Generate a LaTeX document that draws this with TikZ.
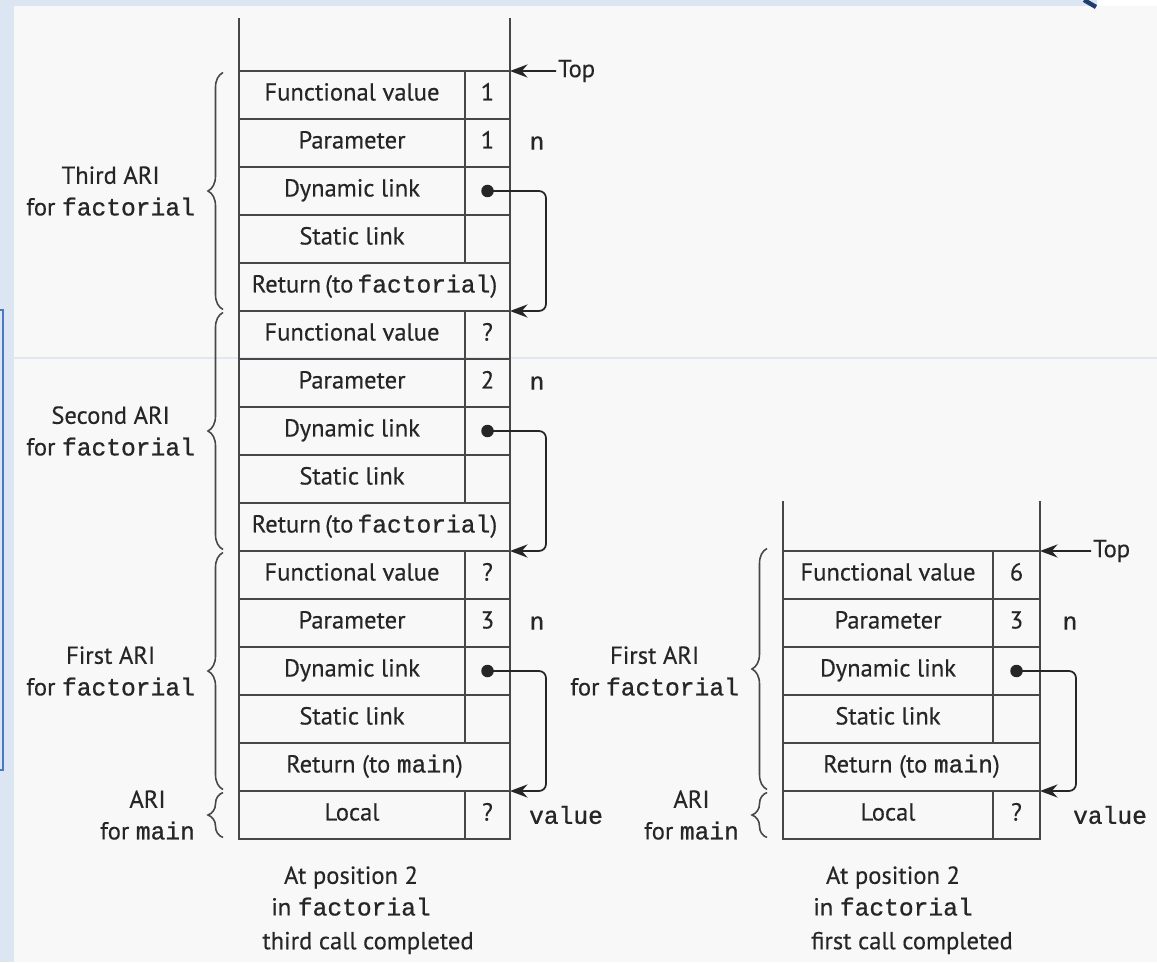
\documentclass[tikz,border=0pt]{standalone}
\usepackage{fontspec}
\setmainfont[FakeBold=0.3]{PT Sans}
\setmonofont[FakeBold=0.9]{Liberation Mono}
\usetikzlibrary{arrows.meta,decorations.pathreplacing,positioning}
\definecolor{sfondo}{HTML}{F8F8F8}
\definecolor{cornice}{HTML}{DCE6F2}
\definecolor{inchiostro}{HTML}{262626}
\definecolor{bordoblu}{HTML}{4A78C2}
\definecolor{bluscuro}{HTML}{1F3D6E}
\definecolor{righina}{HTML}{E2E8F2}
\newcommand{\testo}{\fontsize{14}{18}\selectfont}

\begin{document}
\begin{tikzpicture}[
		cella/.style={rectangle, draw=inchiostro!85, line width=1.1pt, inner sep=0pt, outer sep=0pt,
			minimum height={\rh*1cm}, text height=1.55ex, text depth=0.3ex, text=inchiostro, font=\testo},
		punto/.style={circle, fill=inchiostro, inner sep=0pt, minimum size=0.25cm},
		freccia/.style={line width=1pt, draw=inchiostro, rounded corners=4pt,
			-{Stealth[length=10pt,width=7.5pt]}},
		graffa/.style={decorate, decoration={brace, amplitude=0.3cm}, line width=0.9pt, draw=inchiostro!85},
		etichetta/.style={text=inchiostro, font=\testo, inner sep=1pt},
		bordo/.style={line width=1.1pt, draw=inchiostro!85},
		]
		\def\rh{0.96}
		
		%% ── sfondo della diapositiva ───────────────────────────
		\useasboundingbox(0,0)rectangle(23.14,19.24);
		\fill[cornice](0,0)rectangle(23.14,19.24);
		\fill[sfondo](0.28,0)rectangle(23.14,19.12);
		\fill[white](21.94,19.12)rectangle(23.14,19.24);
		\draw[bluscuro,line width=2.5pt](21.68,19.24)--(21.92,19.10);
		\draw[righina,line width=0.6pt](0.28,12.08)--(23.14,12.08);
		\draw[bordoblu,line width=0.8pt](0,13.04)--(0.06,13.04)--(0.06,3.84)--(0,3.84);
		
		%% ── (a) terza chiamata completata ──────────────────────
		\begin{scope}[shift={(4.78,17.82)}]
			\def\wl{4.52}
			\def\wv{0.90}
			\draw[bordo](0,0)--(0,1.05);
			\draw[bordo](\wl+\wv,0)--(\wl+\wv,1.05);
			\foreach \k/\nome/\fv/\pv/\ret in {0/Third/1/1/{Return\,(to\,\texttt{factorial})},
				1/Second/?/2/{Return\,(to\,\texttt{factorial})},
				2/First/?/3/{Return (to \texttt{main})}}{
				\node[cella,minimum width={\wl*1cm}](L-fv\k)at({\wl/2},{-(5*\k+0.5)*\rh}){Functional value};
				\node[cella,minimum width={\wv*1cm}](L-fvv\k)at({\wl+\wv/2},{-(5*\k+0.5)*\rh}){\fv};
				\node[cella,minimum width={\wl*1cm}](L-par\k)at({\wl/2},{-(5*\k+1.5)*\rh}){Parameter};
				\node[cella,minimum width={\wv*1cm}](L-parv\k)at({\wl+\wv/2},{-(5*\k+1.5)*\rh}){\pv};
				\node[etichetta](L-n\k)at({\wl+\wv+0.54},{-(5*\k+1.5)*\rh}){\texttt{n}};
				\node[cella,minimum width={\wl*1cm}](L-dl\k)at({\wl/2},{-(5*\k+2.5)*\rh}){Dynamic link};
				\node[cella,minimum width={\wv*1cm}](L-dlv\k)at({\wl+\wv/2},{-(5*\k+2.5)*\rh}){};
				\node[punto](L-pt\k)at(L-dlv\k.center){};
				\node[cella,minimum width={\wl*1cm}](L-sl\k)at({\wl/2},{-(5*\k+3.5)*\rh}){Static link};
				\node[cella,minimum width={\wv*1cm}](L-slv\k)at({\wl+\wv/2},{-(5*\k+3.5)*\rh}){};
				\node[cella,minimum width={(\wl+\wv)*1cm}](L-ret\k)at({(\wl+\wv)/2},{-(5*\k+4.5)*\rh}){\ret};
				\draw[freccia](L-pt\k.center)--++({\wv/2+0.72},0)|-(L-ret\k.south east);
				\draw[graffa](-0.32,{-5*(\k+1)*\rh+0.03})--(-0.32,{-5*\k*\rh-0.03});
				\node[etichetta,anchor=east,align=center](L-ari\k)at(-0.84,{-(5*\k+2.5)*\rh}){\nome\ ARI\\for \texttt{factorial}};
			}
			\node[cella,minimum width={\wl*1cm}](L-loc)at({\wl/2},{-15.5*\rh}){Local};
			\node[cella,minimum width={\wv*1cm}](L-locv)at({\wl+\wv/2},{-15.5*\rh}){?};
			\node[etichetta,anchor=west](L-val)at({\wl+\wv+0.34},{-15.5*\rh}){\texttt{value}};
			\draw[graffa](-0.32,{-16*\rh+0.03})--(-0.32,{-15*\rh-0.03});
			\node[etichetta,anchor=east,align=center](L-arim)at(-0.84,{-15.5*\rh}){ARI\\for \texttt{main}};
			\node[etichetta,anchor=west](L-top)at({\wl+\wv+0.92},0){Top};
			\draw[freccia](L-top.west)--(L-fvv0.north east);
			\node[etichetta,align=center](L-pos)at(2.24,{-16*\rh-1.04}){At position 2\\in \texttt{factorial}};
			\node[etichetta](L-fase)at(2.58,{-16*\rh-2.08}){third call completed};
		\end{scope}
		
		%% ── (b) prima chiamata completata ──────────────────────
		\begin{scope}[shift={(15.66,8.22)}]
			\def\wl{4.20}
			\def\wv{0.94}
			\draw[bordo](0,0)--(0,1.0);
			\draw[bordo](\wl+\wv,0)--(\wl+\wv,1.0);
			\node[cella,minimum width={\wl*1cm}](R-fv)at({\wl/2},{-0.5*\rh}){Functional value};
			\node[cella,minimum width={\wv*1cm}](R-fvv)at({\wl+\wv/2},{-0.5*\rh}){6};
			\node[cella,minimum width={\wl*1cm}](R-par)at({\wl/2},{-1.5*\rh}){Parameter};
			\node[cella,minimum width={\wv*1cm}](R-parv)at({\wl+\wv/2},{-1.5*\rh}){3};
			\node[etichetta](R-n)at({\wl+\wv+0.6},{-1.5*\rh}){\texttt{n}};
			\node[cella,minimum width={\wl*1cm}](R-dl)at({\wl/2},{-2.5*\rh}){Dynamic link};
			\node[cella,minimum width={\wv*1cm}](R-dlv)at({\wl+\wv/2},{-2.5*\rh}){};
			\node[punto](R-pt)at(R-dlv.center){};
			\node[cella,minimum width={\wl*1cm}](R-sl)at({\wl/2},{-3.5*\rh}){Static link};
			\node[cella,minimum width={\wv*1cm}](R-slv)at({\wl+\wv/2},{-3.5*\rh}){};
			\node[cella,minimum width={(\wl+\wv)*1cm}](R-ret)at({(\wl+\wv)/2},{-4.5*\rh}){Return (to \texttt{main})};
			\draw[freccia](R-pt.center)--++({\wv/2+0.72},0)|-(R-ret.south east);
			\draw[graffa](-0.32,{-5*\rh+0.03})--(-0.32,{0.05});
			\node[etichetta,anchor=east,align=center](R-ari)at(-0.84,{-2.5*\rh}){First ARI\\for \texttt{factorial}};
			\node[cella,minimum width={\wl*1cm}](R-loc)at({\wl/2},{-5.5*\rh}){Local};
			\node[cella,minimum width={\wv*1cm}](R-locv)at({\wl+\wv/2},{-5.5*\rh}){?};
			\node[etichetta,anchor=west](R-val)at({\wl+\wv+0.62},{-5.5*\rh}){\texttt{value}};
			\draw[graffa](-0.32,{-6*\rh+0.03})--(-0.32,{-5*\rh-0.03});
			\node[etichetta,anchor=east,align=center](R-arim)at(-0.84,{-5.5*\rh}){ARI\\for \texttt{main}};
			\node[etichetta,anchor=west](R-top)at({\wl+\wv+1.02},0){Top};
			\draw[freccia](R-top.west)--(R-fvv.north east);
			\node[etichetta,align=center](R-pos)at(2.2,{-6*\rh-1.04}){At position 2\\in \texttt{factorial}};
			\node[etichetta](R-fase)at(2.58,{-6*\rh-2.08}){first call completed};
		\end{scope}
		
\end{tikzpicture}
\end{document}
